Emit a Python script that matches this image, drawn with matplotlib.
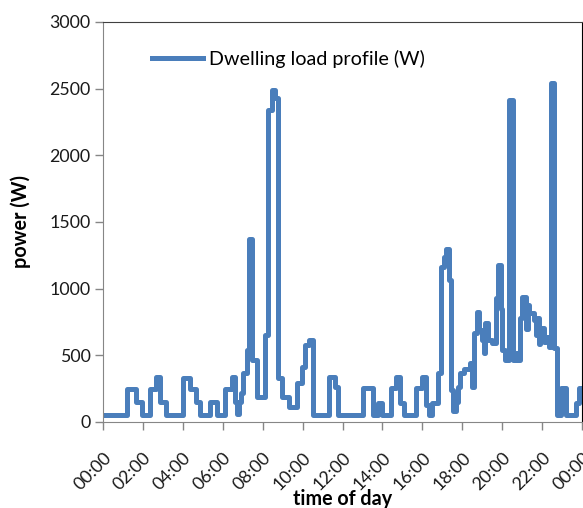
import matplotlib
matplotlib.use("Agg")
import matplotlib.pyplot as plt

# start hour of each step and the load held from there on (W)
step_hours = [0, 1.2, 1.67, 1.95, 2.37, 2.67, 2.87, 3.17, 4.03, 4.37, 4.67, 4.87,
              5.37, 5.7, 6.1, 6.45, 6.6, 6.7, 6.8, 6.9, 7.0, 7.2, 7.33, 7.45,
              7.7, 8.1, 8.27, 8.45, 8.62, 8.75, 8.97, 9.3, 9.7, 9.97, 10.1, 10.3,
              10.5, 11.3, 11.6, 11.75, 13.03, 13.53, 13.8, 14.0, 14.45, 14.7,
              14.87, 15.1, 15.7, 15.97, 16.2, 16.35, 16.5, 16.77, 16.95, 17.07,
              17.2, 17.33, 17.45, 17.55, 17.7, 17.8, 17.9, 18.1, 18.37, 18.5,
              18.6, 18.75, 18.85, 19.0, 19.1, 19.15, 19.3, 19.5, 19.7, 19.8,
              19.95, 20.0, 20.15, 20.35, 20.55, 20.7, 20.8, 20.9, 21.0, 21.2,
              21.3, 21.35, 21.6, 21.68, 21.75, 21.85, 21.9, 22.1, 22.2, 22.35,
              22.45, 22.6, 22.77, 22.95, 23.2, 23.7, 23.85, 24]
load_w = [50, 250, 150, 50, 250, 340, 150, 50, 330, 250, 150, 50,
          150, 50, 250, 340, 150, 60, 150, 215, 365, 540, 1370, 465,
          190, 650, 2340, 2490, 2430, 330, 190, 115, 290, 415, 580, 615,
          50, 340, 265, 50, 255, 50, 140, 50, 255, 340,
          140, 50, 255, 340, 130, 50, 140, 365, 1160, 1240,
          1300, 1065, 240, 80, 150, 260, 365, 400, 440, 260,
          665, 825, 690, 615, 515, 740, 615, 590, 930, 1180,
          850, 540, 465, 2415, 465, 520, 465, 780, 940, 700,
          875, 815, 765, 650, 780, 585, 705, 600, 640, 560,
          2540, 555, 50, 255, 50, 140, 255, 255]

tick_hours = list(range(0, 25, 2))
tick_labels = [f"{h % 24:02d}:00" for h in tick_hours]

plt.rcParams['font.family'] = ['Lato', 'DejaVu Sans']

fig = plt.figure(figsize=(5.83, 5.08), dpi=100)
ax = fig.add_axes([0.1767, 0.1693, 0.8216, 0.7874])

ax.step(step_hours, load_w, where='post', color='#4a7ebb', linewidth=3.6,
        label='Dwelling load profile (W)')

ax.set_xlim(0, 24)
ax.set_ylim(0, 3000)
ax.set_yticks(range(0, 3001, 500))
ax.set_xticks(tick_hours)
ax.set_xticklabels(tick_labels, rotation=45, ha='right', rotation_mode='anchor')

ax.tick_params(axis='both', direction='out', length=6, width=1, color='#868686',
               labelsize=12.8, labelcolor='#1a1a1a')
ax.tick_params(axis='x', pad=14)
ax.tick_params(axis='y', pad=3)

for side in ['left', 'bottom']:
    ax.spines[side].set_color('#868686')
ax.spines['top'].set_color('#404040')
ax.spines['right'].set_color('black')

ax.set_ylabel('power (W)', fontsize=14.2, fontweight='bold', labelpad=13)
ax.set_xlabel('time of day', fontsize=14.2, fontweight='bold', labelpad=-3)

ax.legend(loc='upper left', bbox_to_anchor=(0.102, 0.93), frameon=False,
          fontsize=14.2, handlelength=2.6, handletextpad=0.3,
          borderaxespad=0, borderpad=0)

fig.savefig('out.png', dpi=100)
